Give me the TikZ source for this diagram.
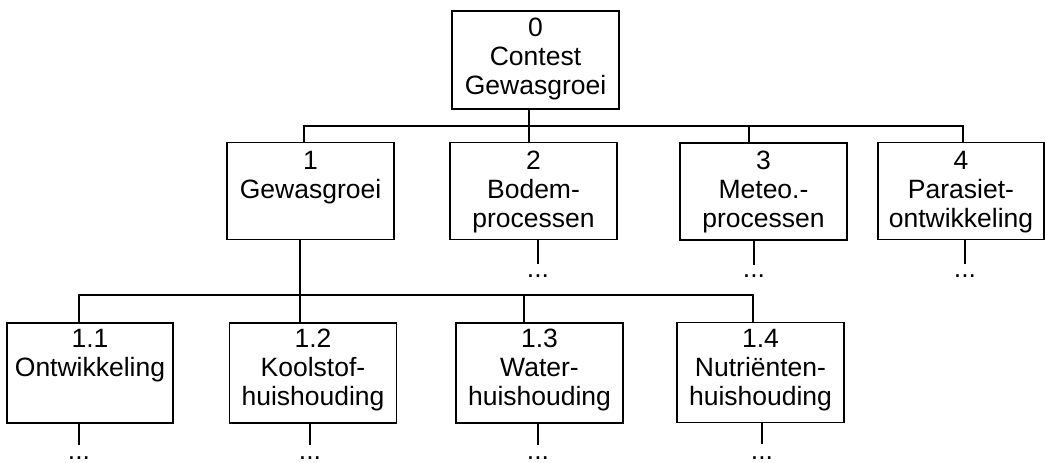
\documentclass[tikz,border=0pt]{standalone}
\usepackage{fontspec}
\setmainfont{Liberation Sans}
\begin{document}
\begin{tikzpicture}[x=1pt,y=-1pt,
  box/.style={draw,line width=1.6pt,minimum width=167pt,minimum height=97pt,inner sep=0pt},
  lbl/.style={anchor=north,align=center,inner sep=0pt,font=\fontsize{26.5}{29}\selectfont},
  dots/.style={anchor=base,inner sep=0pt,font=\fontsize{26.5}{29}\selectfont},
  conn/.style={line width=1.1pt}]
\useasboundingbox (0,0) rectangle (1045,463);
% level 0
\node[box,minimum height=98pt] (b0) at (535.5,60) {};
\node[lbl] (t0) at ([yshift=-8pt]b0.north) {0\\Contest\\Gewasgroei};
% level 1
\node[box] (b1) at (310.5,191) {};
\node[box] (b2) at (533.5,191) {};
\node[box] (b3) at (763.5,191.5) {};
\node[box,minimum width=166pt] (b4) at (961,191) {};
\node[lbl] (t1) at ([yshift=-9pt]b1.north) {1\\Gewasgroei};
\node[lbl] (t2) at ([yshift=-9pt]b2.north) {2\\Bodem-\\processen};
\node[lbl] (t3) at ([yshift=-9pt]b3.north) {3\\Meteo.-\\processen};
\node[lbl] (t4) at ([yshift=-9pt]b4.north) {4\\Parasiet-\\ontwikkeling};
% level 2
\node[box,minimum width=166pt,minimum height=100pt] (b11) at (90,373) {};
\node[box,minimum height=100pt] (b12) at (313,373) {};
\node[box,minimum height=100pt] (b13) at (539.5,373) {};
\node[box,minimum height=100pt] (b14) at (760.5,372.5) {};
\node[lbl] (t11) at ([yshift=-7pt]b11.north) {1.1\\Ontwikkeling};
\node[lbl] (t12) at ([yshift=-7pt]b12.north) {1.2\\Koolstof-\\huishouding};
\node[lbl] (t13) at ([yshift=-7pt]b13.north) {1.3\\Water-\\huishouding};
\node[lbl] (t14) at ([yshift=-7pt]b14.north) {1.4\\Nutriënten-\\huishouding};
% bus coordinates
\coordinate (bus1) at (529,126);
\coordinate (bus2) at (300,295);
% level 0 -> level 1
\draw[conn] (b0.south -| bus1) -- (b2.north -| bus1);
\draw[conn] (b1.north -| 304,0) |- (bus1) -| (b4.north -| 963,0);
\draw[conn] (bus1 -| 749,0) -- (b3.north -| 749,0);
% level 1 -> level 2
\draw[conn] (b1.south -| bus2) -- (b12.north -| bus2);
\draw[conn] (b11.north -| 79,0) |- (bus2) -| (b14.north -| 753,0);
\draw[conn] (bus2 -| 524,0) -- (b13.north -| 524,0);
% stubs and dots
\node[dots] (d2) at (538,277) {...};
\node[dots] (d3) at (754,277) {...};
\node[dots] (d4) at (965,277) {...};
\node[dots] (d11) at (79,459) {...};
\node[dots] (d12) at (310,459) {...};
\node[dots] (d13) at (538,459) {...};
\node[dots] (d14) at (762,459) {...};
\draw[conn] (b2.south -| d2) -- ++(0,24);
\draw[conn] (b3.south -| d3) -- ++(0,24);
\draw[conn] (b4.south -| d4) -- ++(0,24);
\draw[conn] (b11.south -| d11) -- ++(0,21);
\draw[conn] (b12.south -| d12) -- ++(0,21);
\draw[conn] (b13.south -| d13) -- ++(0,21);
\draw[conn] (b14.south -| d14) -- ++(0,21);
\end{tikzpicture}
\end{document}
